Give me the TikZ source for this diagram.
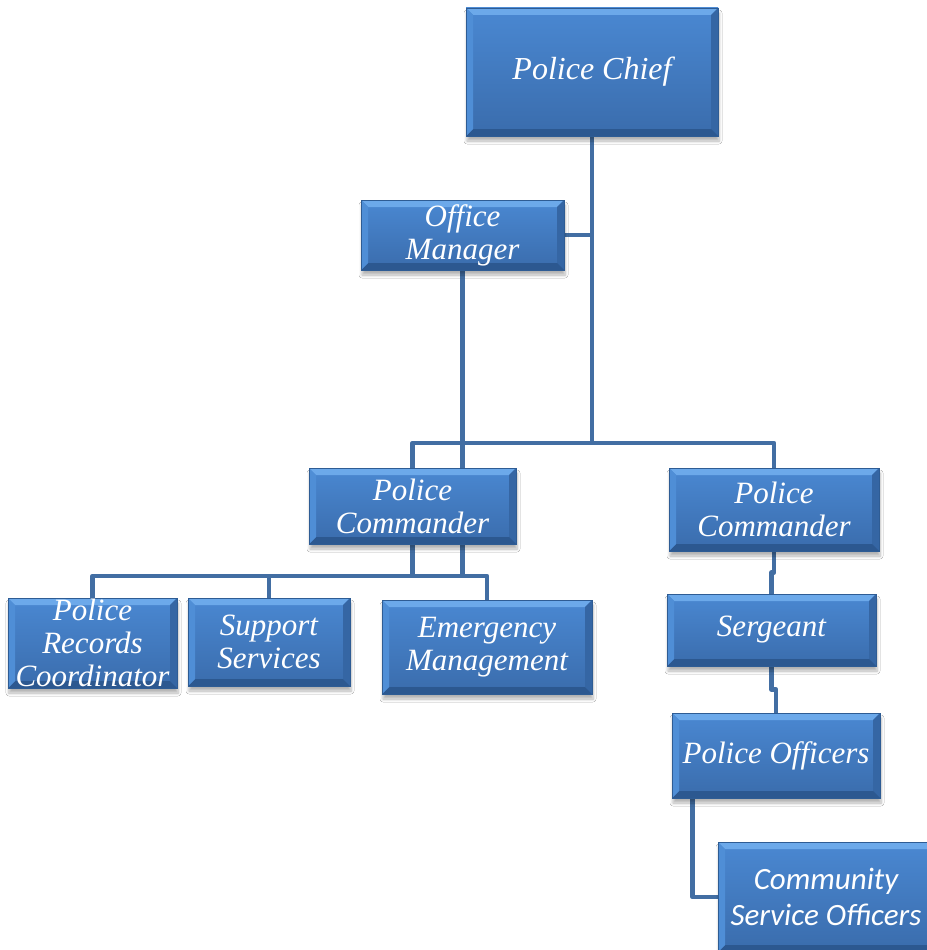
\documentclass[tikz,border=0pt]{standalone}
\usepackage{fontspec}
\setmainfont{Liberation Serif}[ItalicFont={Liberation Serif Italic}]
\newfontfamily\calibrilike{Carlito}[ItalicFont={Carlito Italic}]
\usetikzlibrary{calc,backgrounds,shadows.blur}

% face, bevel and connector colours
\definecolor{facetop}{HTML}{4A88D2}
\definecolor{facebot}{HTML}{3A6CAC}
\definecolor{bevtop}{HTML}{6CA9EA}
\definecolor{bevleft}{HTML}{4F8ED6}
\definecolor{bevright}{HTML}{3566A4}
\definecolor{bevbot}{HTML}{2C5890}
\definecolor{rim}{HTML}{2E5C94}
\definecolor{wire}{HTML}{426EA3}

\newcommand\bevw{7pt}

\tikzset{
  orgbox/.style={rectangle, inner sep=0pt, align=center, text=white,
    font=\fontsize{31}{33}\selectfont\itshape,
    top color=facetop, bottom color=facebot, draw=rim, line width=0.6pt,
    blur shadow={shadow xshift=1pt, shadow yshift=-5pt, shadow blur steps=6,
                 shadow blur radius=3pt, shadow opacity=30},
    path picture={
      \coordinate (q1) at (path picture bounding box.north west);
      \coordinate (q2) at (path picture bounding box.north east);
      \coordinate (q3) at (path picture bounding box.south east);
      \coordinate (q4) at (path picture bounding box.south west);
      \fill[bevtop] (q1) -- (q2) -- ([shift={(-\bevw,-\bevw)}]q2) -- ([shift={(\bevw,-\bevw)}]q1) -- cycle;
      \fill[bevright] (q2) -- (q3) -- ([shift={(-\bevw,\bevw)}]q3) -- ([shift={(-\bevw,-\bevw)}]q2) -- cycle;
      \fill[bevbot] (q3) -- (q4) -- ([shift={(\bevw,\bevw)}]q4) -- ([shift={(-\bevw,\bevw)}]q3) -- cycle;
      \fill[bevleft] (q4) -- (q1) -- ([shift={(\bevw,-\bevw)}]q1) -- ([shift={(\bevw,\bevw)}]q4) -- cycle;
    }},
  wirepath/.style={draw=wire, line width=4.5pt, line join=round},
}

\begin{document}
\begin{tikzpicture}[x=1pt, y=-1pt]
\useasboundingbox (0,0) rectangle (926,950);

% boxes
\node[orgbox, minimum width=252pt, minimum height=128pt,
      font=\fontsize{32}{34}\selectfont\itshape] (chief) at (592,72) {Police Chief};
\node[orgbox, minimum width=203pt, minimum height=70pt] (om) at (462.5,235) {Office\\Manager};
\node[orgbox, minimum width=207pt, minimum height=76pt] (pcl) at (412.5,506) {Police\\Commander};
\node[orgbox, minimum width=210pt, minimum height=83pt] (pcr) at (774,509.5) {Police\\Commander};
\node[orgbox, minimum width=169pt, minimum height=90pt] (prc) at (92.5,643) {Police\\Records\\Coordinator};
\node[orgbox, minimum width=162pt, minimum height=88pt] (ss) at (269,642) {Support\\Services};
\node[orgbox, minimum width=210pt, minimum height=94pt] (em) at (487,647) {Emergency\\Management};
\node[orgbox, minimum width=209pt, minimum height=72pt] (sg) at (771.5,630) {Sergeant};
\node[orgbox, minimum width=208pt, minimum height=85pt] (po) at (776,755.5) {Police Officers};
\node[orgbox, minimum width=216pt, minimum height=110pt,
      font=\fontsize{31}{36}\selectfont\calibrilike\itshape] (cso) at (826,897) {Community\\Service Officers};

% connectors behind the boxes
\begin{scope}[on background layer]
  \fill[white] (0,0) rectangle (926,950);
  \coordinate (hub) at (592,443);
  \coordinate (split) at (412.5,576);
  \draw[wirepath] (chief.south) -- (hub);
  \draw[wirepath] (om.east) -- (om.east -| chief.south);
  \draw[wirepath] (pcl.north) |- (hub) -| (pcr.north);
  \draw[wirepath] (om.south) -- (om.south |- pcl.north);
  \draw[wirepath] (om.south |- pcl.south) -- (om.south |- split);
  \draw[wirepath] (pcl.south) -- (split);
  \draw[wirepath] (prc.north) |- (split) -| (em.north);
  \draw[wirepath] (ss.north) -- (ss.north |- split);
  \draw[wirepath] (pcr.south) |- ($(pcr.south)!0.5!(sg.north)$) -| (sg.north);
  \draw[wirepath] (sg.south) |- ($(sg.south)!0.5!(po.north)$) -| (po.north);
  \draw[wirepath] ([xshift=21pt]po.south west) |- (cso.west);
\end{scope}
\end{tikzpicture}
\end{document}
